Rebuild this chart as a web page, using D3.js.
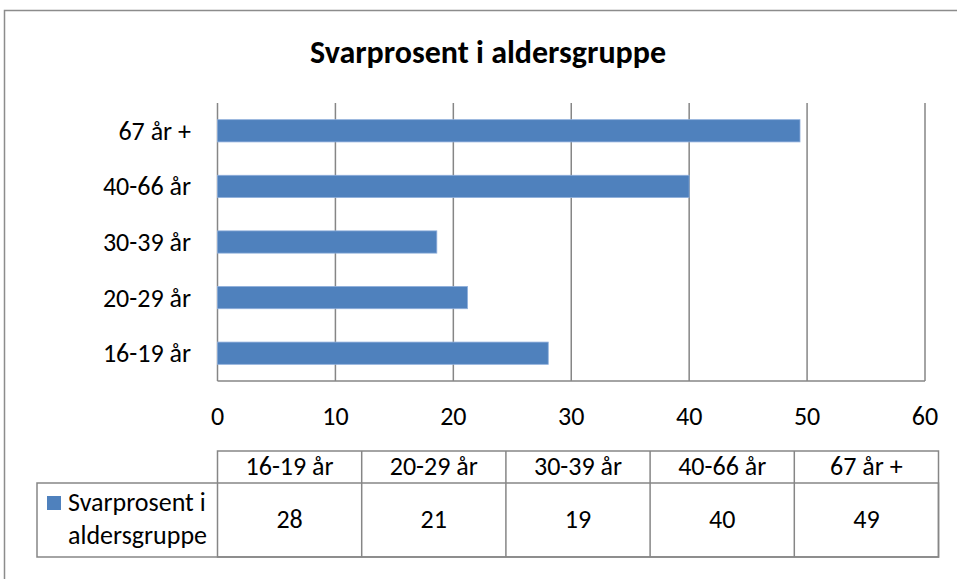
<!DOCTYPE html>
<html>
<head>
<meta charset="utf-8">
<script src="https://cdn.jsdelivr.net/npm/d3@7"></script>
<style>
  body { margin: 0; background: #fff; }
  svg text { font-family: Calibri, Carlito, Lato, "Open Sans", sans-serif; fill: #000; }
</style>
</head>
<body>
<div id="chart"></div>
<script>
// data
const categories = ["16-19 år", "20-29 år", "30-39 år", "40-66 år", "67 år +"];
const values = [28.05, 21.2, 18.6, 40.0, 49.4];
const tableValues = [28, 21, 19, 40, 49];
const xTicks = [0, 10, 20, 30, 40, 50, 60];
const seriesName = ["Svarprosent i", "aldersgruppe"];
const title = "Svarprosent i aldersgruppe";

const W = 957, H = 579;
const plot = {left: 217.5, right: 925, top: 103, bottom: 381};
const barColor = "#4F81BD";
const gridColor = "#868686";
const fontSize = "26px";

const svg = d3.select("#chart").append("svg")
    .attr("width", W)
    .attr("height", H);

// outer chart frame
svg.append("rect")
    .attr("x", 4.5).attr("y", 10.5)
    .attr("width", W + 20).attr("height", H + 20)
    .attr("fill", "none")
    .attr("stroke", "#8c8c8c")
    .attr("stroke-width", 1.5);

svg.append("text")
    .attr("x", 488).attr("y", 63)
    .attr("text-anchor", "middle")
    .style("font-size", "32px")
    .style("font-weight", "bold")
    .text(title);

const x = d3.scaleLinear().domain([0, 60]).range([plot.left, plot.right]);
// bottom-to-top order like Excel bar charts
const y = d3.scaleBand().domain(categories.slice().reverse())
    .range([plot.top, plot.bottom])
    .paddingInner(0.6).paddingOuter(0.3);

// vertical gridlines
svg.append("g").selectAll("line")
    .data(xTicks)
    .join("line")
    .attr("x1", d => x(d)).attr("x2", d => x(d))
    .attr("y1", plot.top).attr("y2", plot.bottom)
    .attr("stroke", gridColor)
    .attr("stroke-width", 1.5);

// bottom axis line
svg.append("line")
    .attr("x1", plot.left).attr("x2", plot.right)
    .attr("y1", plot.bottom).attr("y2", plot.bottom)
    .attr("stroke", gridColor)
    .attr("stroke-width", 1.5);

// bars
svg.append("g").selectAll("rect")
    .data(categories)
    .join("rect")
    .attr("x", x(0))
    .attr("y", d => y(d))
    .attr("width", (d, i) => x(values[i]) - x(0))
    .attr("height", y.bandwidth())
    .attr("fill", barColor)
    .attr("stroke", "#8eaedb")
    .attr("stroke-width", 0.8);

// category labels
svg.append("g").selectAll("text")
    .data(categories)
    .join("text")
    .attr("x", 191)
    .attr("y", d => y(d) + y.bandwidth() / 2 + 9)
    .attr("text-anchor", "end")
    .style("font-size", fontSize)
    .text(d => d);

// x tick labels
svg.append("g").selectAll("text")
    .data(xTicks)
    .join("text")
    .attr("x", d => x(d))
    .attr("y", 425)
    .attr("text-anchor", "middle")
    .style("font-size", fontSize)
    .text(d => d);

// data table
const tbl = {left: 217.5, right: 938.5, top: 451, mid: 483, bottom: 557, legendLeft: 37};
const col = d3.scaleBand().domain(categories).range([tbl.left, tbl.right]);
const tg = svg.append("g")
    .attr("fill", "none")
    .attr("stroke", gridColor)
    .attr("stroke-width", 1.5);

tg.append("rect")
    .attr("x", tbl.left).attr("y", tbl.top)
    .attr("width", tbl.right - tbl.left).attr("height", tbl.bottom - tbl.top);
tg.append("rect")
    .attr("x", tbl.legendLeft).attr("y", tbl.mid)
    .attr("width", tbl.right - tbl.legendLeft).attr("height", tbl.bottom - tbl.mid);
tg.selectAll("line.col")
    .data(categories.slice(1))
    .join("line")
    .attr("class", "col")
    .attr("x1", d => col(d)).attr("x2", d => col(d))
    .attr("y1", tbl.top).attr("y2", tbl.bottom);

svg.append("g").selectAll("text")
    .data(categories)
    .join("text")
    .attr("x", d => col(d) + col.bandwidth() / 2)
    .attr("y", 475)
    .attr("text-anchor", "middle")
    .style("font-size", fontSize)
    .text(d => d);

svg.append("g").selectAll("text")
    .data(categories)
    .join("text")
    .attr("x", d => col(d) + col.bandwidth() / 2)
    .attr("y", 528)
    .attr("text-anchor", "middle")
    .style("font-size", fontSize)
    .text((d, i) => tableValues[i]);

// legend key inside table
svg.append("rect")
    .attr("x", 47).attr("y", 496)
    .attr("width", 14).attr("height", 14)
    .attr("fill", barColor);

svg.append("g").selectAll("text")
    .data(seriesName)
    .join("text")
    .attr("x", 68)
    .attr("y", (d, i) => 511 + i * 33)
    .style("font-size", fontSize)
    .text(d => d);
</script>
</body>
</html>
